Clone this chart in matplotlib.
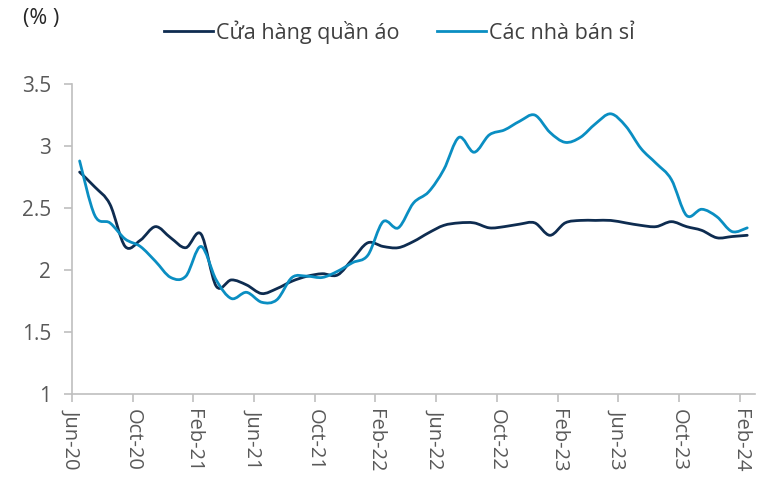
import matplotlib
matplotlib.use("Agg")
import matplotlib.pyplot as plt
from matplotlib.path import Path
from matplotlib.patches import PathPatch
from matplotlib.lines import Line2D
import numpy as np

plt.rcParams['font.family'] = ['Open Sans', 'DejaVu Sans']

months = ["Jun-20", "Oct-20", "Feb-21", "Jun-21", "Oct-21", "Feb-22",
          "Jun-22", "Oct-22", "Feb-23", "Jun-23", "Oct-23", "Feb-24"]

apparel = [2.79, 2.67, 2.53, 2.19, 2.24, 2.35, 2.26, 2.18, 2.29, 1.87, 1.92,
           1.88, 1.81, 1.85, 1.91, 1.95, 1.97, 1.96, 2.09, 2.22, 2.19, 2.18,
           2.23, 2.30, 2.36, 2.38, 2.38, 2.34, 2.35, 2.37, 2.38, 2.28, 2.38,
           2.40, 2.40, 2.40, 2.38, 2.36, 2.35, 2.39, 2.35, 2.32, 2.26, 2.27, 2.28]

wholesale = [2.88, 2.44, 2.38, 2.25, 2.19, 2.07, 1.94, 1.95, 2.19, 1.92, 1.77,
             1.82, 1.74, 1.76, 1.94, 1.95, 1.94, 1.99, 2.06, 2.12, 2.39, 2.34,
             2.54, 2.63, 2.81, 3.07, 2.95, 3.09, 3.13, 3.20, 3.25, 3.11, 3.03,
             3.07, 3.18, 3.26, 3.16, 2.98, 2.86, 2.73, 2.44, 2.49, 2.43, 2.31, 2.34]

labels = ["Cửa hàng quần áo", "Các nhà bán sỉ"]
colors = ["#0E2C50", "#0A8EC2"]


def smooth_path(xs, ys):
    pts = np.column_stack([xs, ys])
    n = len(pts)
    verts = [pts[0]]
    codes = [Path.MOVETO]
    for k in range(n - 1):
        p0 = pts[k - 1] if k > 0 else pts[k]
        p1 = pts[k]
        p2 = pts[k + 1]
        p3 = pts[k + 2] if k + 2 < n else pts[k + 1]
        c1 = p1 + (p2 - p0) / 6.0
        c2 = p2 - (p3 - p1) / 6.0
        verts += [c1, c2, p2]
        codes += [Path.CURVE4] * 3
    return Path(verts, codes)


fig = plt.figure(figsize=(7.83, 4.79), dpi=100)
ax = fig.add_axes([0.092, 0.1775, 0.872, 0.647])

x = np.arange(len(apparel))
for series, c in zip([apparel, wholesale], colors):
    p = smooth_path(x, np.array(series, dtype=float))
    ax.add_patch(PathPatch(p, facecolor="none", edgecolor=c, lw=2.0,
                           capstyle="round", joinstyle="round"))

ax.set_xlim(-0.5, len(apparel) - 0.5)
ax.set_ylim(1, 3.5)
ax.set_yticks([1, 1.5, 2, 2.5, 3, 3.5])
ax.set_yticklabels(["1", "1.5", "2", "2.5", "3", "3.5"])
ax.set_xticks(np.arange(0, len(apparel), 4) - 0.5)
ax.set_xticklabels(months, rotation=270, ha="center", va="top")

for s in ["top", "right"]:
    ax.spines[s].set_visible(False)
for s in ["left", "bottom"]:
    ax.spines[s].set_color("#BFBFBF")
    ax.spines[s].set_linewidth(1.2)

ax.tick_params(axis="y", colors="#BFBFBF", labelcolor="#595959", labelsize=15,
               length=6, width=1.2, pad=9)
ax.tick_params(axis="x", colors="#BFBFBF", labelcolor="#595959", labelsize=14.5,
               length=6, width=1.2, pad=5)

handles = [Line2D([0], [0], color=c, lw=2.0) for c in colors]
fig.legend(handles, labels, loc="center", bbox_to_anchor=(0.51, 0.933),
           ncol=2, frameon=False, fontsize=15.5, handlelength=2.3,
           handletextpad=0.15, columnspacing=1.7, labelcolor="#404040")

fig.text(0.029, 0.961, "(% )", fontsize=15.5, color="#262626", va="center")

fig.savefig("out.png", dpi=100)
